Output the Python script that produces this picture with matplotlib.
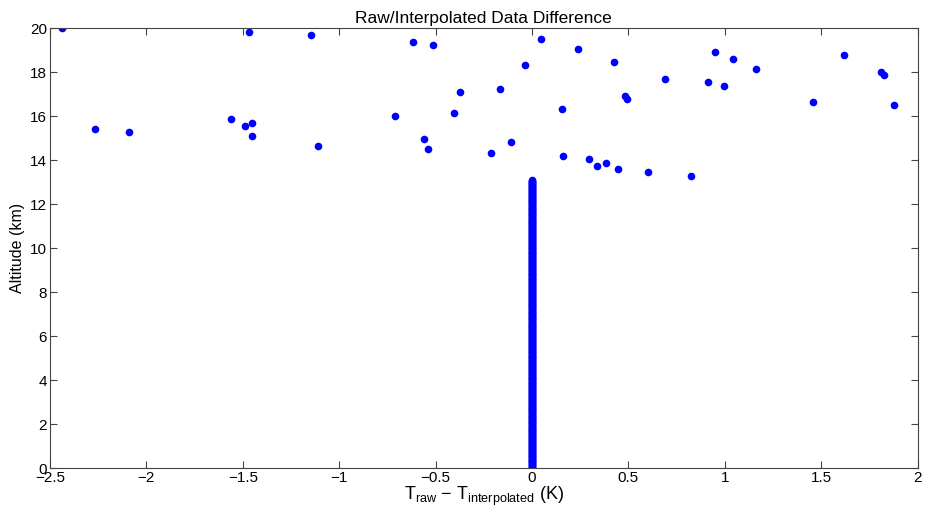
import numpy as np
import matplotlib
matplotlib.use("Agg")
import matplotlib.pyplot as plt

plt.rcParams['font.family'] = ['Liberation Sans', 'DejaVu Sans']
plt.rcParams['mathtext.default'] = 'regular'

# scattered differences above ~13 km (K, km)
diff_upper = [-2.438, -2.268, -2.088, -1.469, -1.144, -1.562, -1.490, -1.453,
              -1.450, -1.108, -0.711, -0.616, -0.516, -0.559, -0.538, -0.371,
              -0.405, -0.215, -0.165, -0.110, -0.036, 0.046, 0.158, 0.236,
              0.160, 0.297, 0.337, 0.385, 0.423, 0.444, 0.480, 0.493, 0.601,
              0.691, 0.826, 0.913, 0.947, 0.996, 1.043, 1.160, 1.456, 1.619,
              1.812, 1.824, 1.878]
alt_upper = [20.00, 15.42, 15.27, 19.82, 19.70, 15.88, 15.56, 15.71,
             15.10, 14.66, 16.03, 19.38, 19.23, 14.95, 14.50, 17.10,
             16.16, 14.35, 17.25, 14.82, 18.32, 19.53, 16.33, 19.07,
             14.21, 14.06, 13.74, 13.89, 18.47, 13.59, 16.94, 16.79, 13.45,
             17.71, 13.29, 17.56, 18.92, 17.39, 18.62, 18.16, 16.65, 18.77,
             18.01, 17.86, 16.50]

# below ~13 km raw and interpolated profiles coincide (zero difference)
alt_lower = np.linspace(0, 13.1, 400)
diff_lower = np.zeros_like(alt_lower)

fig = plt.figure(figsize=(9.27, 5.18), dpi=100)
ax = fig.add_axes([0.0539, 0.096, 0.936, 0.8494])

ax.plot(diff_lower, alt_lower, 'o', color=(0, 0, 1), markersize=5.5, markeredgewidth=0)
ax.plot(diff_upper, alt_upper, 'o', color=(0, 0, 1), markersize=5.5, markeredgewidth=0)

ax.set_xlim(-2.5, 2)
ax.set_ylim(0, 20)
ax.set_xticks(np.arange(-2.5, 2.01, 0.5))
ax.set_xticklabels(['\u22122.5', '\u22122', '\u22121.5', '\u22121', '\u22120.5',
                    '0', '0.5', '1', '1.5', '2'])
ax.set_yticks(np.arange(0, 21, 2))

ax.tick_params(direction='in', length=5, width=0.8, colors='#444444',
               labelcolor='black', labelsize=11, top=True, right=True, pad=2)
for s in ax.spines.values():
    s.set_color('#444444')
    s.set_linewidth(0.8)

ax.set_title('Raw/Interpolated Data Difference', fontsize=12.5, pad=4)
ax.set_xlabel(r'T$_{raw}$ $-$ T$_{interpolated}$ (K)', fontsize=13, labelpad=0)
ax.set_ylabel('Altitude (km)', fontsize=11.5, labelpad=4)

fig.savefig('out.png', dpi=100)
